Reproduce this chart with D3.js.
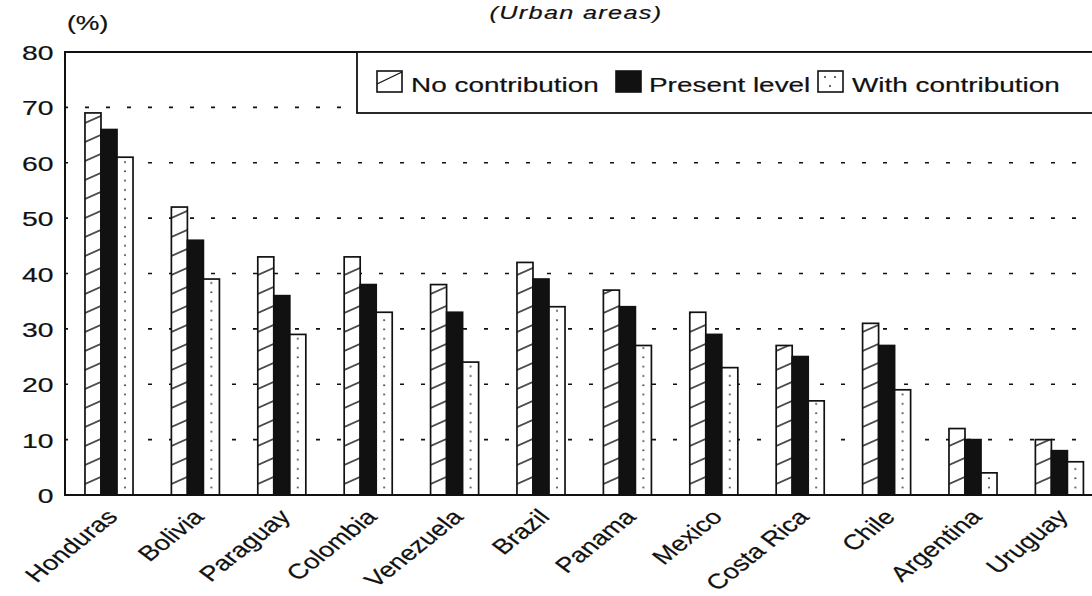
<!DOCTYPE html>
<html><head><meta charset="utf-8">
<script src="https://cdn.jsdelivr.net/npm/d3@7"></script>
<style>
html,body{margin:0;padding:0;background:#fff;}
svg text{font-family:"Liberation Sans",Arial,sans-serif;fill:#111;stroke:#111;stroke-width:0.2px;}
</style></head>
<body>
<svg id="chart" width="1092" height="596"></svg>
<script>
const categories = ["Honduras","Bolivia","Paraguay","Colombia","Venezuela","Brazil","Panama","Mexico","Costa Rica","Chile","Argentina","Uruguay"];
const seriesNames = ["No contribution","Present level","With contribution"];
const noContribution   = [69,52,43,43,38,42,37,33,27,31,12,10];
const presentLevel     = [66,46,36,38,33,39,34,29,25,27,10,8];
const withContribution = [61,39,29,33,24,34,27,23,17,19,4,6];
const yTicks = [0,10,20,30,40,50,60,70,80];
const titleText = "(Urban areas)";
const unitText = "(%)";

const series = [noContribution, presentLevel, withContribution];
const SX = 1.33; // horizontal stretch of the original lettering
const svg = d3.select("#chart");
const ink = "#111";

// patterns
const defs = svg.append("defs");
const hatch = defs.append("pattern").attr("id","hatch").attr("patternUnits","userSpaceOnUse")
  .attr("width",40).attr("height",19).attr("patternTransform","skewY(-24)");
hatch.append("rect").attr("width",40).attr("height",19).attr("fill","#fff");
hatch.append("line").attr("x1",0).attr("x2",40).attr("y1",9).attr("y2",9).attr("stroke",ink).attr("stroke-width",1.3);
const dots = defs.append("pattern").attr("id","dots").attr("patternUnits","userSpaceOnUse")
  .attr("width",9).attr("height",9.3);
dots.append("rect").attr("width",9).attr("height",9.3).attr("fill","#fff");
dots.append("circle").attr("cx",4).attr("cy",4).attr("r",0.9).attr("fill","#222");
const fills = ["url(#hatch)", ink, "url(#dots)"];

const y = d3.scaleLinear().domain([0,80]).range([495,52]);
const x = d3.scaleBand().domain(categories).range([65.8,1102.6]).paddingInner(0.444).paddingOuter(0.222);
const xs = d3.scaleBand().domain(d3.range(3)).range([0,x.bandwidth()]);

// gridlines
svg.append("g").selectAll("line").data(yTicks.filter(d=>d>0 && d<80)).join("line")
  .attr("x1",64).attr("x2",1100).attr("y1",d=>y(d)).attr("y2",d=>y(d))
  .attr("stroke",ink).attr("stroke-width",1.6).attr("stroke-dasharray","4,17");

// top border
svg.append("line").attr("x1",64).attr("x2",1100).attr("y1",y(80)).attr("y2",y(80))
  .attr("stroke",ink).attr("stroke-width",2);

// bars
const groups = svg.append("g").selectAll("g").data(categories).join("g")
  .attr("transform",d=>`translate(${x(d)},0)`);
groups.selectAll("rect").data((c,i)=>series.map((s,k)=>({k,v:s[i]}))).join("rect")
  .attr("x",d=>xs(d.k)).attr("width",xs.bandwidth())
  .attr("y",d=>y(d.v)).attr("height",d=>y(0)-y(d.v))
  .attr("fill",d=>fills[d.k]).attr("stroke",ink).attr("stroke-width",1.7);

// axes
const yAxis = svg.append("g").attr("transform","translate(64.5,0)")
  .call(d3.axisLeft(y).tickValues(yTicks).tickSize(0).tickSizeOuter(0));
yAxis.select(".domain").attr("stroke",ink).attr("stroke-width",2);
yAxis.selectAll("text").attr("x",0).attr("dy",null).attr("y",7.5)
  .attr("transform","translate(-11,0) scale(1.35,1)")
  .attr("font-size",21).attr("fill",ink).attr("font-family","Liberation Sans, Arial, sans-serif");

const xAxis = svg.append("g").attr("transform","translate(0,495)")
  .call(d3.axisBottom(x).tickSize(0).tickSizeOuter(0));
xAxis.select(".domain").attr("stroke",ink).attr("stroke-width",2.2).attr("d","M64,0H1100");
xAxis.selectAll("text").attr("x",0).attr("y",0).attr("dy",null)
  .attr("text-anchor","end")
  .attr("transform",`translate(10,23) scale(1.3,1) rotate(-46)`)
  .attr("font-size",21).attr("fill",ink).attr("font-family","Liberation Sans, Arial, sans-serif");

// unit and title
svg.append("text").attr("transform",`translate(67,30) scale(${SX},1)`).attr("font-size",20).text(unitText);
svg.append("text").attr("transform",`translate(576,19) scale(${SX},1)`).attr("text-anchor","middle")
  .attr("font-size",19).attr("font-style","italic").attr("letter-spacing",1).text(titleText);

// legend
const leg = svg.append("g");
leg.append("rect").attr("x",357).attr("y",52).attr("width",800).attr("height",61)
  .attr("fill","#fff").attr("stroke",ink).attr("stroke-width",1.8);
const swX = [377,616,818], txX = [411,649,852];
seriesNames.forEach((name,k)=>{
  const g = leg.append("g");
  g.append("rect").attr("x",swX[k]).attr("y",71).attr("width",25).attr("height",21)
    .attr("fill",k===1?ink:"#fff").attr("stroke",ink).attr("stroke-width",1.6);
  if(k===0){
    g.append("line").attr("x1",swX[k]).attr("y1",71+13).attr("x2",swX[k]+25).attr("y2",72)
      .attr("stroke",ink).attr("stroke-width",1.3);
  }
  if(k===2){
    [[7,6],[17,6],[12,15]].forEach(p=>g.append("circle").attr("cx",swX[k]+p[0]).attr("cy",71+p[1]).attr("r",0.9).attr("fill","#222"));
  }
  g.append("text").attr("transform",`translate(${txX[k]},92) scale(${SX},1)`).attr("font-size",21).text(name);
});
</script>
</body></html>
